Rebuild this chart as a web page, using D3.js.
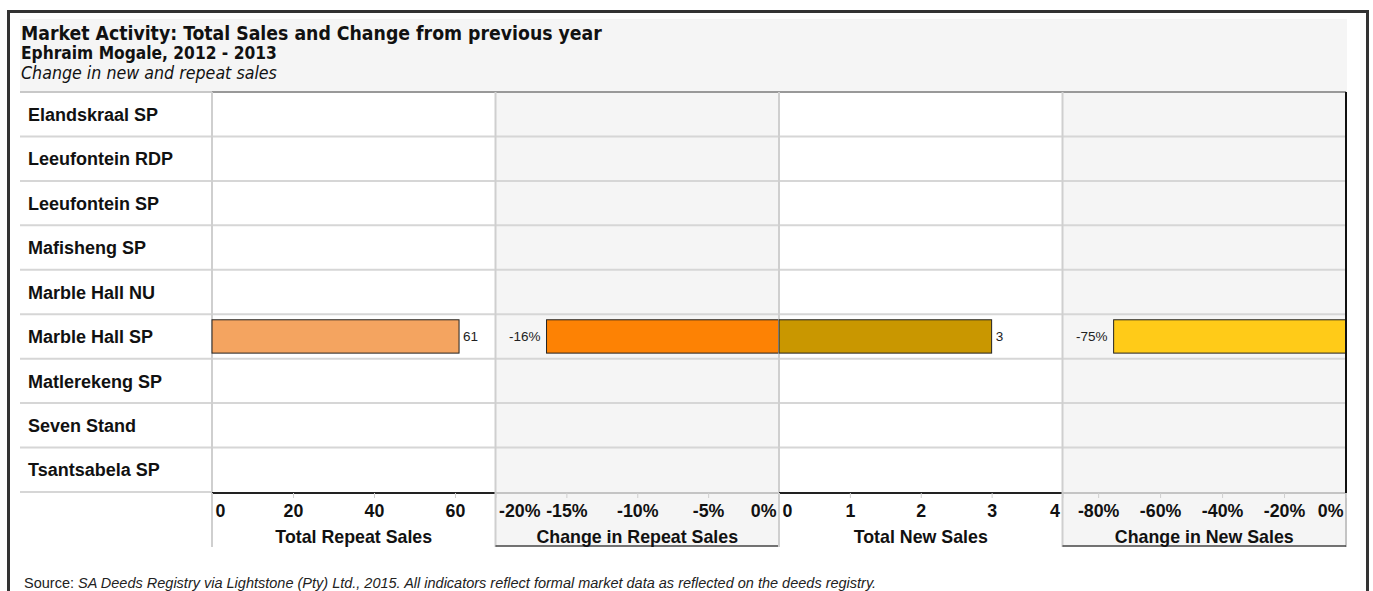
<!DOCTYPE html>
<html>
<head>
<meta charset="utf-8">
<script src="https://cdn.jsdelivr.net/npm/d3@7"></script>
<style>
  html, body { margin: 0; padding: 0; background: #ffffff; }
  svg { display: block; }
</style>
</head>
<body>
<svg id="chart" width="1373" height="591"></svg>
<script>
// ---------------- DATA ----------------
const categories = ["Elandskraal SP", "Leeufontein RDP", "Leeufontein SP", "Mafisheng SP",
  "Marble Hall NU", "Marble Hall SP", "Matlerekeng SP", "Seven Stand", "Tsantsabela SP"];
const totalRepeatSales = [null, null, null, null, null, 61, null, null, null];
const changeRepeatSales = [null, null, null, null, null, -0.164, null, null, null];
const totalNewSales = [null, null, null, null, null, 3, null, null, null];
const changeNewSales = [null, null, null, null, null, -0.75, null, null, null];
const panelTitles = ["Total Repeat Sales", "Change in Repeat Sales", "Total New Sales", "Change in New Sales"];
const ticksRepeat = [0, 20, 40, 60];
const ticksChangeRepeat = [-0.20, -0.15, -0.10, -0.05, 0];
const ticksNew = [0, 1, 2, 3, 4];
const ticksChangeNew = [-0.8, -0.6, -0.4, -0.2, 0];
const titleText = "Market Activity: Total Sales and Change from previous year";
const subtitleText = "Ephraim Mogale, 2012 - 2013";
const subtitle2Text = "Change in new and repeat sales";
const sourceLabel = "Source: ";
const sourceText = "SA Deeds Registry via Lightstone (Pty) Ltd., 2015. All indicators reflect formal market data as reflected on the deeds registry.";

// ---------------- LAYOUT ----------------
const locale = d3.formatLocale({ decimal: ".", thousands: ",", grouping: [3], currency: ["$", ""], minus: "-" });
const fmtInt = locale.format("d");
const fmtPct = locale.format(".0%");

const svg = d3.select("#chart");
const left = 20, right = 1347;
const labelColRight = 212;
const panelRight = 1346;
const rowsTop = 92, rowsBottom = 492;
const axisBoxBottom = 546;
const boldFont = "'Liberation Sans', Arial, sans-serif";
const boldSize = 17.8;

const panels = [
  { title: panelTitles[0], values: totalRepeatSales, domain: [0, 70], ticks: ticksRepeat, fmt: fmtInt, color: "#F4A460", shade: false },
  { title: panelTitles[1], values: changeRepeatSales, domain: [-0.2, 0], ticks: ticksChangeRepeat, fmt: fmtPct, color: "#FD8204", shade: true },
  { title: panelTitles[2], values: totalNewSales, domain: [0, 4], ticks: ticksNew, fmt: fmtInt, color: "#C99700", shade: false },
  { title: panelTitles[3], values: changeNewSales, domain: [-0.915, 0], ticks: ticksChangeNew, fmt: fmtPct, color: "#FFCB18", shade: true }
];

const panelScale = d3.scaleBand().domain(d3.range(panels.length)).range([labelColRight, panelRight]);
const rowScale = d3.scaleBand().domain(categories).range([rowsTop, rowsBottom]);
const barScale = d3.scaleBand().domain(categories).range([rowsTop, rowsBottom]).paddingInner(0.25).paddingOuter(0.125);

// Outer frame
svg.append("rect").attr("x", 8.5).attr("y", 11.5).attr("width", 1359).attr("height", 620)
  .attr("fill", "#fff").attr("stroke", "#333").attr("stroke-width", 3);

// Title background
svg.append("rect").attr("x", left).attr("y", 19).attr("width", right - left).attr("height", rowsTop - 19)
  .attr("fill", "#f5f5f5");

function fitText(sel, target) {
  const w = sel.node().getComputedTextLength();
  const fs = parseFloat(sel.attr("font-size"));
  sel.attr("font-size", (fs * target / w).toFixed(2));
}

const titleFont = "'DejaVu Sans Condensed', 'DejaVu Sans', sans-serif";
const t1 = svg.append("text").attr("x", 21).attr("y", 40)
  .attr("font-family", titleFont).attr("font-weight", "bold")
  .attr("font-size", 17).attr("fill", "#111").text(titleText);
fitText(t1, 581);
const t2 = svg.append("text").attr("x", 21).attr("y", 58.5)
  .attr("font-family", titleFont).attr("font-weight", "bold")
  .attr("font-size", 14).attr("fill", "#111").text(subtitleText);
fitText(t2, 256);
const t3 = svg.append("text").attr("x", 21).attr("y", 79)
  .attr("font-family", titleFont).attr("font-style", "italic")
  .attr("font-size", 15).attr("fill", "#111").text(subtitle2Text);
fitText(t3, 256);

// Panel backgrounds
panels.forEach((p, i) => {
  const x0 = panelScale(i), w = panelScale.bandwidth();
  svg.append("rect").attr("x", x0).attr("y", rowsTop).attr("width", w).attr("height", rowsBottom - rowsTop)
    .attr("fill", p.shade ? "#f5f5f5" : "#ffffff");
  if (p.shade) {
    svg.append("rect").attr("x", x0).attr("y", rowsBottom).attr("width", w).attr("height", axisBoxBottom - rowsBottom)
      .attr("fill", "#f5f5f5");
  }
});

// Row grid lines
const gridColor = "#d6d6d6";
categories.forEach((c, i) => {
  const y = rowScale(c);
  if (i > 0) {
    svg.append("line").attr("x1", left).attr("x2", panelRight).attr("y1", y).attr("y2", y)
      .attr("stroke", gridColor).attr("stroke-width", 2);
  }
});
svg.append("line").attr("x1", left).attr("x2", labelColRight).attr("y1", rowsTop).attr("y2", rowsTop)
  .attr("stroke", "#c8c8c8").attr("stroke-width", 2);
svg.append("line").attr("x1", labelColRight).attr("x2", panelRight).attr("y1", rowsTop).attr("y2", rowsTop)
  .attr("stroke", "#999").attr("stroke-width", 2);
svg.append("line").attr("x1", left).attr("x2", labelColRight).attr("y1", rowsBottom).attr("y2", rowsBottom)
  .attr("stroke", gridColor).attr("stroke-width", 2);

// Row labels
svg.append("g").selectAll("text").data(categories).join("text")
  .attr("x", 28).attr("y", d => rowScale(d) + rowScale.bandwidth() / 2).attr("dy", "0.37em")
  .attr("font-family", boldFont).attr("font-weight", "bold")
  .attr("font-size", 18).attr("fill", "#111").text(d => d);

// Panels
panels.forEach((p, i) => {
  const x0 = panelScale(i), x1 = x0 + panelScale.bandwidth();
  const x = d3.scaleLinear().domain(p.domain).range([x0, x1]);
  const g = svg.append("g");

  g.append("line").attr("x1", x0).attr("x2", x0).attr("y1", rowsTop).attr("y2", axisBoxBottom + 1)
    .attr("stroke", "#cfcfcf").attr("stroke-width", 2);

  g.append("line").attr("x1", x0).attr("x2", x1).attr("y1", rowsBottom + 1).attr("y2", rowsBottom + 1)
    .attr("stroke", p.shade ? "#c4c4c4" : "#222").attr("stroke-width", p.shade ? 2 : 1.8);

  if (p.shade) {
    g.append("line").attr("x1", x1).attr("x2", x1).attr("y1", rowsTop).attr("y2", axisBoxBottom + 1)
      .attr("stroke", "#c4c4c4").attr("stroke-width", 2);
    g.append("line").attr("x1", x0).attr("x2", x1).attr("y1", axisBoxBottom).attr("y2", axisBoxBottom)
      .attr("stroke", "#444").attr("stroke-width", 1.5);
  }

  // Bars
  const zero = x(0);
  const data = categories.map((c, k) => ({ c, v: p.values[k] })).filter(d => d.v !== null);
  g.selectAll("rect.bar").data(data).join("rect").attr("class", "bar")
    .attr("x", d => Math.min(x(d.v), zero)).attr("y", d => barScale(d.c))
    .attr("width", d => Math.abs(x(d.v) - zero)).attr("height", barScale.bandwidth())
    .attr("fill", p.color).attr("stroke", "#222").attr("stroke-width", 1);

  // Value labels
  g.selectAll("text.val").data(data).join("text").attr("class", "val")
    .attr("x", d => d.v >= 0 ? x(d.v) + 4 : x(d.v) - 6)
    .attr("y", d => barScale(d.c) + barScale.bandwidth() / 2).attr("dy", "0.37em")
    .attr("text-anchor", d => d.v >= 0 ? "start" : "end")
    .attr("font-family", boldFont).attr("font-size", 13.5)
    .attr("fill", "#222").text(d => p.fmt(d.v));

  // Axis
  const axis = d3.axisBottom(x).tickValues(p.ticks).tickFormat(p.fmt).tickSize(5).tickPadding(6);
  const ag = g.append("g").attr("transform", `translate(0,${rowsBottom + 1})`).call(axis);
  ag.select(".domain").remove();
  ag.selectAll(".tick line").attr("stroke", "#cfcfcf").attr("stroke-width", 1);
  ag.selectAll(".tick text")
    .attr("font-family", boldFont).attr("font-weight", "bold")
    .attr("font-size", boldSize).attr("fill", "#111").attr("y", 11).attr("dy", "0.71em")
    .each(function(d) {
      const t = d3.select(this);
      if (d === p.domain[0]) { t.attr("text-anchor", "start").attr("x", 3); }
      else if (d === p.domain[1]) { t.attr("text-anchor", "end").attr("x", -3); }
    });

  g.append("text").attr("x", (x0 + x1) / 2).attr("y", 543).attr("text-anchor", "middle")
    .attr("font-family", boldFont).attr("font-weight", "bold")
    .attr("font-size", boldSize).attr("fill", "#111").text(p.title);
});

// Right edge of last panel
svg.append("line").attr("x1", panelRight).attr("x2", panelRight).attr("y1", rowsTop).attr("y2", rowsBottom + 1)
  .attr("stroke", "#111").attr("stroke-width", 2);

// Source
const src = svg.append("text").attr("x", 24).attr("y", 588)
  .attr("font-family", boldFont).attr("font-size", 14.5).attr("fill", "#222");
src.append("tspan").text(sourceLabel);
src.append("tspan").attr("font-style", "italic").text(sourceText);
</script>
</body>
</html>
